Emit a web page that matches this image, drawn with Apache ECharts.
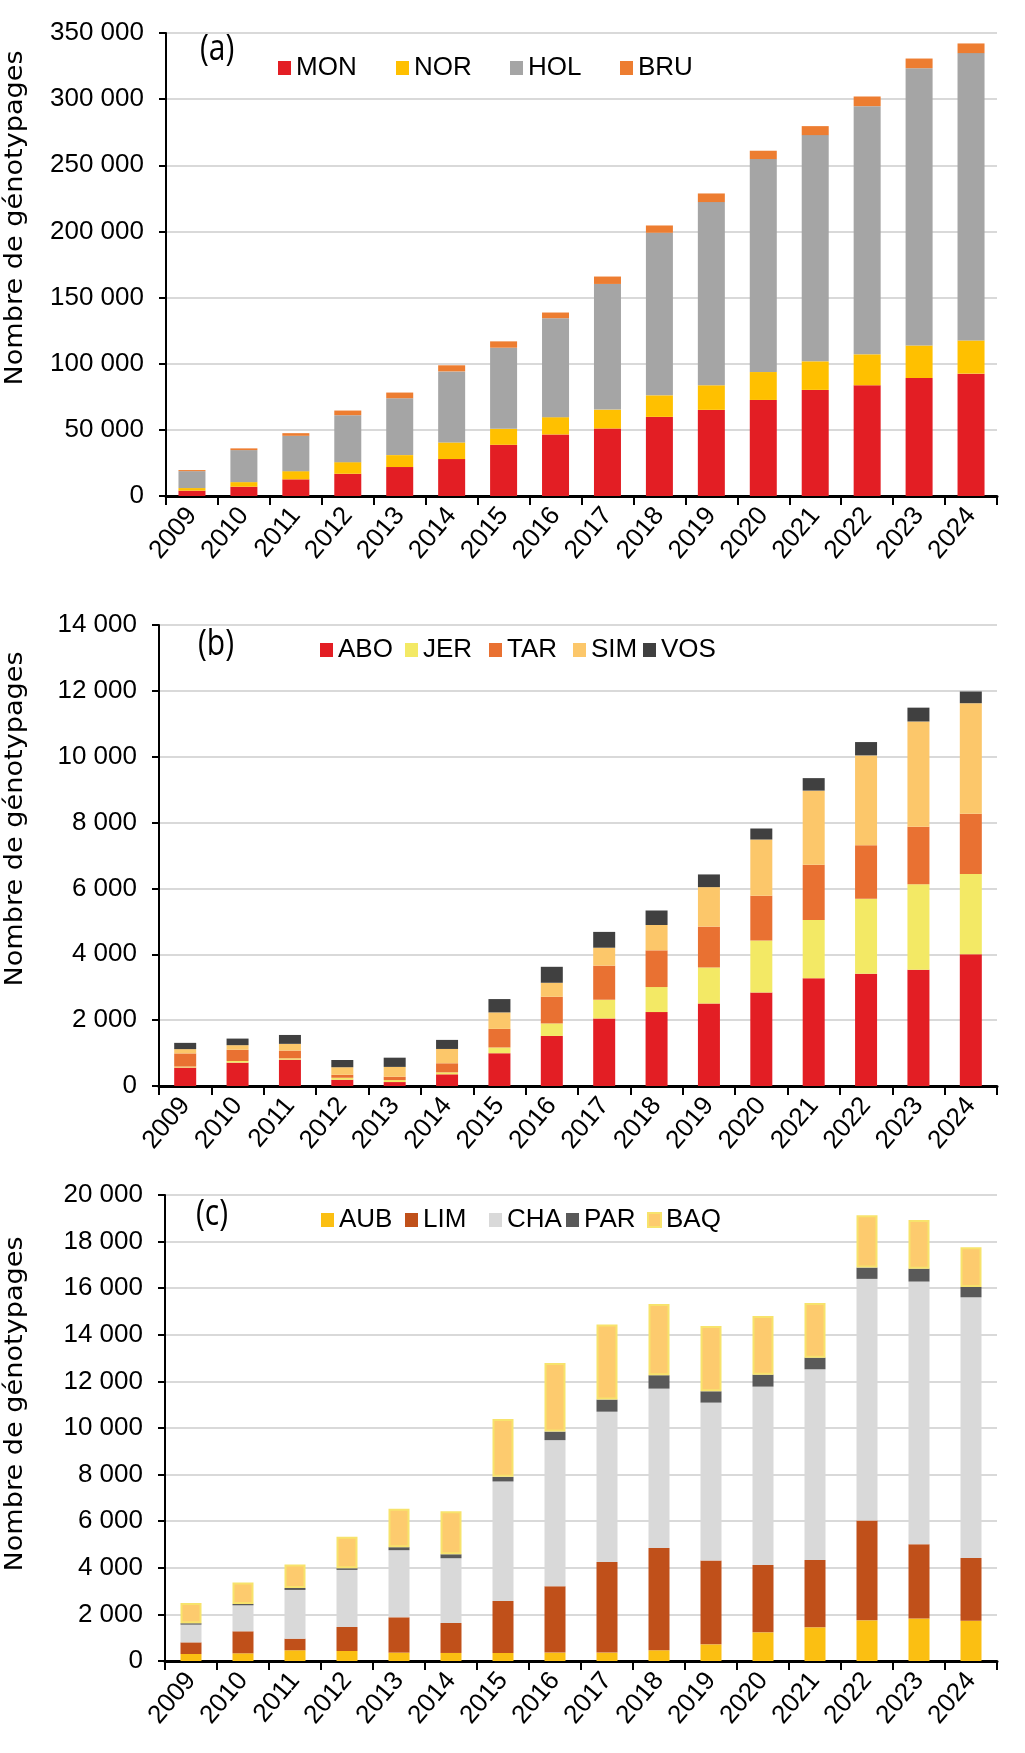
<!DOCTYPE html>
<html>
<head>
<meta charset="utf-8">
<script src="https://cdn.jsdelivr.net/npm/echarts@6/dist/echarts.min.js"></script>
<style>
  html, body { margin: 0; padding: 0; background: #fff; }
  #chart { width: 1025px; height: 1753px; }
</style>
</head>
<body>
<div id="chart"></div>
<script>
// années
const years = ['2009', '2010', '2011', '2012', '2013', '2014', '2015', '2016',
  '2017', '2018', '2019', '2020', '2021', '2022', '2023', '2024'];

// (a) races laitières principales
const MON = [4000, 7000, 12600, 16800, 21900, 27900, 38700, 46500, 51000, 59800, 65100, 72600, 80200, 83700, 89200, 92500];
const NOR = [2000, 3500, 6200, 8800, 9000, 12600, 12100, 13100, 14300, 16300, 18600, 21100, 21600, 23400, 24600, 25100];
const HOL = [12800, 24200, 26700, 35500, 43000, 53700, 61300, 74800, 95000, 122900, 138500, 161000, 171000, 187600, 209600, 217200];
const BRU = [800, 1300, 2000, 3500, 4300, 4600, 4800, 4300, 5600, 5500, 6500, 6300, 6800, 7300, 7300, 7300];

// (b) races laitières à petits effectifs
const ABO = [560, 710, 800, 190, 120, 355, 995, 1520, 2050, 2245, 2505, 2840, 3270, 3410, 3530, 4000];
const JER = [30, 50, 40, 60, 60, 60, 175, 380, 570, 760, 1095, 1575, 1775, 2275, 2600, 2435];
const TAR = [400, 340, 235, 90, 100, 275, 565, 810, 1035, 1115, 1240, 1360, 1675, 1625, 1740, 1835];
const SIM = [130, 140, 205, 230, 300, 435, 500, 425, 545, 770, 1200, 1710, 2250, 2730, 3200, 3355];
const VOS = [190, 200, 270, 220, 280, 275, 405, 485, 480, 440, 385, 335, 380, 405, 420, 355];

// (c) races allaitantes
const AUB = [300, 330, 460, 430, 360, 345, 345, 360, 360, 460, 715, 1230, 1445, 1745, 1820, 1730];
const LIM = [500, 945, 500, 1030, 1515, 1285, 2235, 2850, 3890, 4395, 3595, 2895, 2895, 4285, 3190, 2695];
const CHA = [760, 1115, 2090, 2450, 2880, 2780, 5125, 6270, 6450, 6835, 6780, 7650, 8180, 10370, 11275, 11185];
const PAR = [60, 60, 85, 70, 130, 170, 200, 365, 520, 575, 485, 515, 500, 485, 555, 445];
const BAQ = [870, 915, 1005, 1350, 1645, 1850, 2485, 2945, 3220, 3060, 2805, 2520, 2350, 2245, 2090, 1705];

const FONT = '"Liberation Sans", Arial, sans-serif';

const fmt = (v) => String(v).replace(/\B(?=(\d{3})+(?!\d))/g, ' ');

const chart = echarts.init(document.getElementById('chart'), null, { renderer: 'canvas' });

const grids = [
  { left: 166, right: 28, top: 33, height: 463 },
  { left: 159, right: 28, top: 625, height: 461 },
  { left: 165, right: 28, top: 1195, height: 466 },
];

const yMax = [350000, 14000, 20000];
const yStep = [50000, 2000, 2000];

const xAxes = grids.map((g, i) => ({
  type: 'category',
  gridIndex: i,
  data: years,
  axisLine: { lineStyle: { color: '#000', width: 3 } },
  axisTick: { show: true, length: 9, lineStyle: { color: '#000', width: 2 } },
  axisLabel: {
    rotate: 50,
    margin: 15,
    color: '#000',
    fontSize: 26,
    fontFamily: FONT,
    interval: 0,
  },
}));

const yAxes = grids.map((g, i) => ({
  type: 'value',
  gridIndex: i,
  min: 0,
  max: yMax[i],
  interval: yStep[i],
  axisLine: { show: true, lineStyle: { color: '#000', width: 2 } },
  axisTick: { show: true, length: 7, lineStyle: { color: '#000', width: 2 } },
  splitLine: { lineStyle: { color: '#D9D9D9', width: 2 } },
  axisLabel: {
    color: '#000',
    fontSize: 26,
    fontFamily: FONT,
    margin: 22,
    formatter: fmt,
  },
}));

const bar = (name, data, color, idx, width, extra) => Object.assign({
  name,
  type: 'bar',
  stack: 'p' + idx,
  xAxisIndex: idx,
  yAxisIndex: idx,
  barWidth: width,
  data,
  itemStyle: { color },
  animation: false,
}, extra || {});

const series = [
  bar('MON', MON, '#E31E24', 0, 27),
  bar('NOR', NOR, '#FFC000', 0, 27),
  bar('HOL', HOL, '#A5A5A5', 0, 27),
  bar('BRU', BRU, '#ED7D31', 0, 27),

  bar('ABO', ABO, '#E31E24', 1, 22),
  bar('JER', JER, '#F3E965', 1, 22),
  bar('TAR', TAR, '#E97132', 1, 22),
  bar('SIM', SIM, '#FCC76A', 1, 22),
  bar('VOS', VOS, '#404040', 1, 22),

  bar('AUB', AUB, '#FBBF12', 2, 21),
  bar('LIM', LIM, '#C0501A', 2, 21),
  bar('CHA', CHA, '#D9D9D9', 2, 21),
  bar('PAR', PAR, '#595959', 2, 21),
  bar('BAQ', BAQ, '#FDCB6E', 2, 21, { itemStyle: { color: '#FDCB6E', borderColor: '#F7E36C', borderWidth: 2 } }),
];

// une légende par entrée, pour caler les positions comme dans Excel
const legendItem = (name, left, top) => ({
  orient: 'horizontal',
  icon: 'rect',
  itemWidth: 13,
  itemHeight: 14,
  left,
  top,
  data: [name],
  selectedMode: false,
  textStyle: { color: '#000', fontSize: 26, fontFamily: FONT, padding: [0, 0, 0, 0] },
});

const legends = [
  legendItem('MON', 273, 50), legendItem('NOR', 391, 50), legendItem('HOL', 505, 50), legendItem('BRU', 615, 50),
  legendItem('ABO', 315, 632), legendItem('JER', 400, 632), legendItem('TAR', 484, 632),
  legendItem('SIM', 568, 632), legendItem('VOS', 638, 632),
  legendItem('AUB', 316, 1202), legendItem('LIM', 400, 1202), legendItem('CHA', 484, 1202),
  legendItem('PAR', 561, 1202), legendItem('BAQ', 642, 1202),
];

const panelLabel = (txt, x, y) => ({
  type: 'text',
  x,
  y,
  scaleY: 1.2,
  style: { text: txt, fill: '#000', font: '30px "Open Sans", sans-serif', textVerticalAlign: 'middle' },
});

const yTitle = (cy) => ({
  type: 'text',
  x: 16,
  y: cy,
  rotation: Math.PI / 2,
  scaleX: 1.13,
  style: {
    text: 'Nombre de génotypages',
    fill: '#000',
    font: '24px "DejaVu Sans", sans-serif',
    textAlign: 'center',
    textVerticalAlign: 'middle',
  },
});

chart.setOption({
  backgroundColor: '#fff',
  animation: false,
  grid: grids,
  xAxis: xAxes,
  yAxis: yAxes,
  legend: legends,
  series,
  graphic: [
    panelLabel('(a)', 200, 50),
    panelLabel('(b)', 198, 645),
    panelLabel('(c)', 196, 1215),
    yTitle(218),
    yTitle(819),
    yTitle(1404),
  ],
});
</script>
</body>
</html>
